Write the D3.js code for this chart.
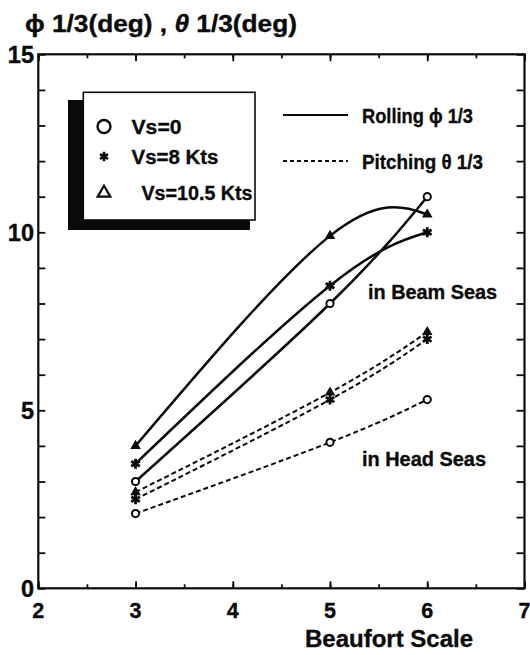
<!DOCTYPE html>
<html>
<head>
<meta charset="utf-8">
<script src="https://cdn.jsdelivr.net/npm/d3@7"></script>
<style>
  html, body { margin: 0; padding: 0; background: #fff; }
  svg { display: block; }
  text { font-family: "Liberation Sans", Arial, sans-serif; font-weight: bold; fill: #0a0a0a; stroke: #0a0a0a; stroke-width: 0.35px; }
</style>
</head>
<body>
<script>
// Significant roll / pitch amplitudes against Beaufort scale
const beaufort = [3, 5, 6];

const rollVs0 = [3.0, 8.0, 11.0];
const rollVs8 = [3.5, 8.5, 10.0];
const rollVs105 = [4.0, 9.9, 10.5];

const pitchVs0 = [2.1, 4.1, 5.3];
const pitchVs8 = [2.5, 5.3, 7.0];
const pitchVs105 = [2.7, 5.5, 7.2];

const xTickLabels = [2, 3, 4, 5, 6, 7];
const yTickLabels = [0, 5, 10, 15];

const speedNames = ["Vs=0", "Vs=8 Kts", "Vs=10.5 Kts"];

const W = 530, H = 655;
const svg = d3.select("body").append("svg").attr("width", W).attr("height", H);

const x = d3.scaleLinear().domain([2, 7]).range([38.3, 524.5]);
const y = d3.scaleLinear().domain([0, 15]).range([588.3, 54.3]);

const ink = "#0a0a0a";

// Frame with inward ticks on all four sides
const minorX = d3.range(2, 7.01, 0.5);
const majorX = d3.range(2, 7.01, 1);
const yTicks = d3.range(0, 15.01, 1);

function noText(g) { g.selectAll("text").remove(); g.select(".domain").remove(); }

svg.append("g").attr("transform", `translate(0,${y(0)})`)
  .call(d3.axisBottom(x).tickValues(minorX).tickSize(-4).tickSizeOuter(0)).call(noText);
svg.append("g").attr("transform", `translate(0,${y(0)})`)
  .call(d3.axisBottom(x).tickValues(majorX).tickSize(-7).tickSizeOuter(0)).call(noText);
svg.append("g").attr("transform", `translate(0,${y(15)})`)
  .call(d3.axisTop(x).tickValues(minorX).tickSize(-4).tickSizeOuter(0)).call(noText);
svg.append("g").attr("transform", `translate(0,${y(15)})`)
  .call(d3.axisTop(x).tickValues(majorX).tickSize(-7).tickSizeOuter(0)).call(noText);
svg.append("g").attr("transform", `translate(${x(2)},0)`)
  .call(d3.axisLeft(y).tickValues(yTicks).tickSize(-7).tickSizeOuter(0)).call(noText);
svg.append("g").attr("transform", `translate(${x(7)},0)`)
  .call(d3.axisRight(y).tickValues(yTicks).tickSize(-8).tickSizeOuter(0)).call(noText);

svg.selectAll(".tick line").attr("stroke", ink).attr("stroke-width", 1.8);

svg.append("rect")
  .attr("x", x(2)).attr("y", y(15))
  .attr("width", x(7) - x(2)).attr("height", y(0) - y(15))
  .attr("fill", "none").attr("stroke", ink).attr("stroke-width", 2.2);

// Tick labels
svg.append("g").selectAll("text").data(xTickLabels).join("text")
  .attr("x", d => x(d)).attr("y", 618)
  .attr("text-anchor", "middle").attr("font-size", 21.5)
  .text(d => d);

svg.append("g").selectAll("text").data(yTickLabels).join("text")
  .attr("x", 34).attr("y", d => y(d) + 8.3)
  .attr("text-anchor", "end").attr("font-size", 23.5)
  .text(d => d);

// Axis titles
const title = svg.append("text").attr("x", 25).attr("y", 32).attr("font-size", 23.5)
  .attr("textLength", 272).attr("lengthAdjust", "spacingAndGlyphs");
title.append("tspan").text("\u03D5 1/3(deg) , ");
title.append("tspan").attr("font-style", "italic").text("\u03B8");
title.append("tspan").text(" 1/3(deg)");

svg.append("text").attr("x", 305).attr("y", 647).attr("font-size", 24)
  .attr("textLength", 168).attr("lengthAdjust", "spacingAndGlyphs")
  .text("Beaufort Scale");

// Curves
const line = d3.line().x(d => x(d[0])).y(d => y(d[1])).curve(d3.curveNatural);
const pair = vals => beaufort.map((b, i) => [b, vals[i]]);

const series = [
  { vals: rollVs0, sym: "circle", dash: null },
  { vals: rollVs8, sym: "star", dash: null },
  { vals: rollVs105, sym: "triangle", dash: null },
  { vals: pitchVs0, sym: "circle", dash: "5,3" },
  { vals: pitchVs8, sym: "star", dash: "5,3" },
  { vals: pitchVs105, sym: "triangle", dash: "5,3" }
];

const plot = svg.append("g");
series.forEach(s => {
  plot.append("path")
    .attr("d", line(pair(s.vals)))
    .attr("fill", "none").attr("stroke", ink)
    .attr("stroke-width", s.dash ? 2 : 2.5)
    .attr("stroke-dasharray", s.dash);
});

function drawMarker(g, kind, cx, cy, big) {
  if (kind === "circle") {
    g.append("circle").attr("cx", cx).attr("cy", cy).attr("r", big ? 6.5 : 3.6)
      .attr("fill", "#fff").attr("stroke", ink).attr("stroke-width", big ? 2.4 : 2);
  } else if (kind === "triangle") {
    if (big) {
      g.append("path").attr("transform", `translate(${cx},${cy})`)
        .attr("d", d3.symbol(d3.symbolTriangle2, 115)())
        .attr("fill", "none").attr("stroke", ink).attr("stroke-width", 2.2);
    } else {
      g.append("path").attr("transform", `translate(${cx},${cy})`)
        .attr("d", d3.symbol(d3.symbolTriangle, 48)())
        .attr("fill", ink);
    }
  } else {
    g.append("path").attr("transform", `translate(${cx},${cy})`)
      .attr("d", d3.symbol(d3.symbolAsterisk, big ? 60 : 70)())
      .attr("fill", "none").attr("stroke", ink).attr("stroke-width", big ? 2.6 : 2.8);
    g.append("circle").attr("cx", cx).attr("cy", cy).attr("r", 2.2).attr("fill", ink);
  }
}

series.forEach(s => {
  pair(s.vals).forEach(p => drawMarker(plot, s.sym, x(p[0]), y(p[1]), false));
});

// Speed legend with drop shadow
const lg = svg.append("g");
lg.append("rect").attr("x", 68).attr("y", 100).attr("width", 182).attr("height", 130).attr("fill", ink);
lg.append("rect").attr("x", 83.3).attr("y", 92.3).attr("width", 171.7).attr("height", 127.7)
  .attr("fill", "#fff").attr("stroke", ink).attr("stroke-width", 1.6);

const legendRows = [
  { sym: "circle", cy: 126.5, tx: 131.5, len: 50 },
  { sym: "star", cy: 156.5, tx: 131.5, len: 87 },
  { sym: "triangle", cy: 193, tx: 141.5, len: 111 }
];
legendRows.forEach((r, i) => {
  drawMarker(lg, r.sym, 104, r.cy, true);
  lg.append("text").attr("x", r.tx).attr("y", r.cy + 7.3).attr("font-size", 20)
    .attr("textLength", r.len).attr("lengthAdjust", "spacingAndGlyphs")
    .text(speedNames[i]);
});

// Line style legend
const ls = svg.append("g");
ls.append("line").attr("x1", 283).attr("x2", 348).attr("y1", 115).attr("y2", 115)
  .attr("stroke", ink).attr("stroke-width", 1.8);
ls.append("text").attr("x", 362).attr("y", 123.3).attr("font-size", 20.5)
  .attr("textLength", 111).attr("lengthAdjust", "spacingAndGlyphs")
  .text("Rolling \u03D5 1/3");

ls.append("line").attr("x1", 283).attr("x2", 348).attr("y1", 161).attr("y2", 161)
  .attr("stroke", ink).attr("stroke-width", 1.8).attr("stroke-dasharray", "4,3");
ls.append("text").attr("x", 362).attr("y", 169.3).attr("font-size", 20.5)
  .attr("textLength", 121).attr("lengthAdjust", "spacingAndGlyphs")
  .text("Pitching \u03B8 1/3");

// Sea condition notes
svg.append("text").attr("x", 368).attr("y", 299).attr("font-size", 20.5)
  .attr("textLength", 129).attr("lengthAdjust", "spacingAndGlyphs").text("in Beam Seas");
svg.append("text").attr("x", 362).attr("y", 466).attr("font-size", 20.5)
  .attr("textLength", 124).attr("lengthAdjust", "spacingAndGlyphs").text("in Head Seas");
</script>
</body>
</html>
